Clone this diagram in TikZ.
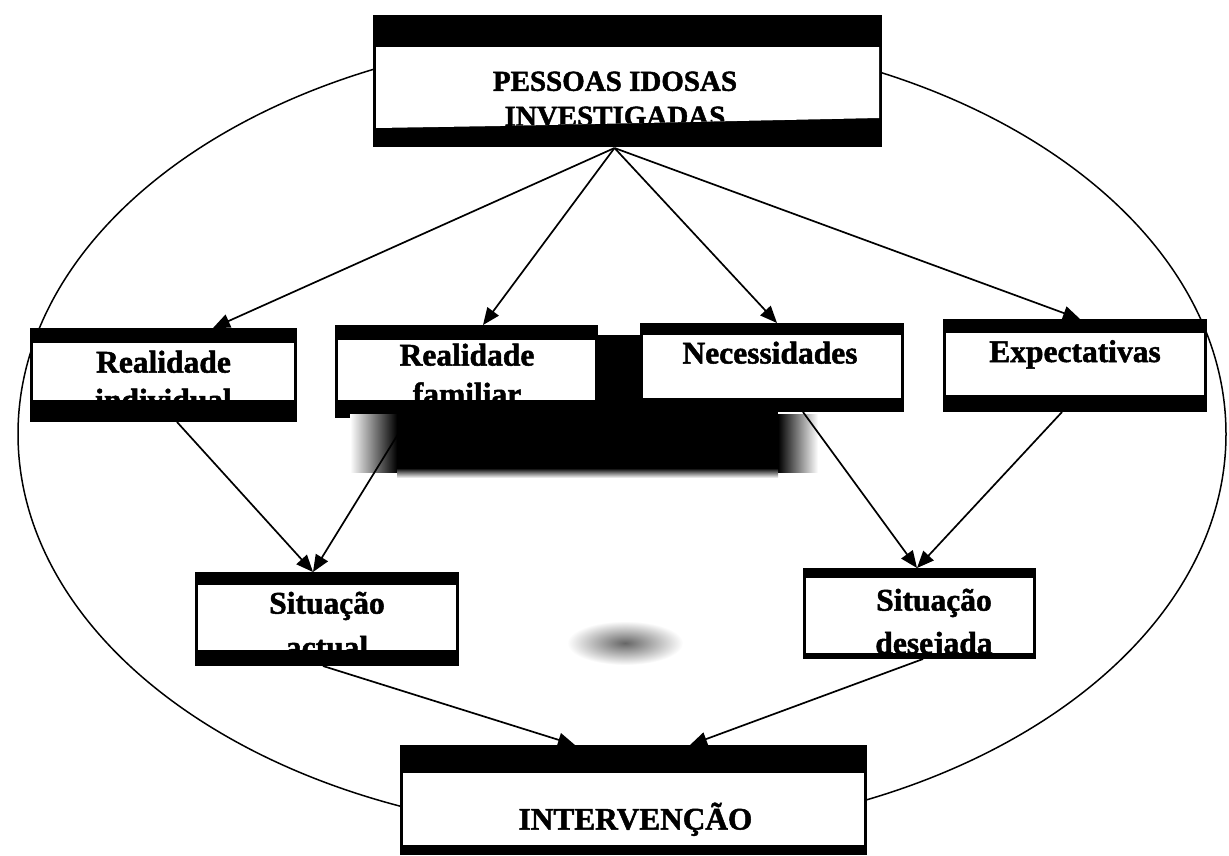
\documentclass[tikz,border=0pt]{standalone}
\usepackage{fontspec}
\setmainfont{Liberation Serif}[BoldFeatures={FakeBold=1.6}]
\usetikzlibrary{arrows.meta,calc}
\begin{document}
\begin{tikzpicture}[x=1pt,y=-1pt,
  frame/.style={fill=black, draw=none, inner sep=0pt, outer sep=0pt},
  boxtext/.style={inner sep=0pt, outer sep=0pt, align=center, text=black},
  rowfont/.style={font=\bfseries\fontsize{31.5}{38}\selectfont},
  link/.style={line width=1.7pt, -{Triangle[length=17pt,width=14pt]}},
  ring/.style={line width=1.5pt}]

\useasboundingbox (0,0) rectangle (1229,855);
\fill[white] (0,0) rectangle (1229,855);

% outer ellipse
\draw[ring] (622,434) ellipse [x radius=604pt, y radius=400pt];

% ---- top box
\node[frame, minimum width=509pt, minimum height=132pt] (pi) at (627.5,81) {};
\fill[white] (376,47) -- (879,47) -- (879,118) -- (500,126) -- (376,128) -- cycle;
\begin{scope}
  \clip (376,47) -- (879,47) -- (879,118) -- (500,126) -- (376,128) -- cycle;
  \node[boxtext, anchor=north, font=\bfseries\fontsize{29}{35}\selectfont] (pi-text) at (615,71.6) {PESSOAS IDOSAS\\INVESTIGADAS};
\end{scope}

% ---- second row
\node[frame, minimum width=267pt, minimum height=94pt] (ri) at (163.5,375) {};
\fill[white] (33,343) rectangle (294,400);
\begin{scope}
  \clip (33,343) rectangle (294,400);
  \node[boxtext, rowfont, anchor=north] (ri-text) at (163.5,350.7) {Realidade\\individual};
\end{scope}

\node[frame, minimum width=263pt, minimum height=93pt] (rf) at (466.5,371.5) {};
\fill[white] (338,340) rectangle (595,400);
\begin{scope}
  \clip (338,340) rectangle (595,400);
  \node[boxtext, font=\bfseries\fontsize{31.5}{39}\selectfont, anchor=north] (rf-text) at (467,343.7) {Realidade\\familiar};
\end{scope}

\node[frame, minimum width=264pt, minimum height=89pt] (ne) at (772,367.5) {};
\fill[white] (643,335) rectangle (901,398);
\node[boxtext, rowfont, anchor=base] (ne-text) at (770,363.5) {Necessidades};

\node[frame, minimum width=264pt, minimum height=93pt] (ex) at (1075,365.5) {};
\fill[white] (946,333) rectangle (1204,395);
\node[boxtext, rowfont, anchor=base] (ex-text) at (1075,362) {Expectativas};

% black bar between the middle boxes
\fill[black] (598,335) rectangle (640,414);

% ---- third row
\node[frame, minimum width=264pt, minimum height=94pt] (sa) at (327,619) {};
\fill[white] (198,585) rectangle (456,650);
\begin{scope}
  \clip (198,585) rectangle (456,650);
  \node[boxtext, font=\bfseries\fontsize{31.5}{44}\selectfont, anchor=north] (sa-text) at (327,591.7) {Situação\\actual};
\end{scope}

\node[frame, minimum width=233pt, minimum height=91pt] (sd) at (919.5,613.5) {};
\fill[white] (806,578) rectangle (1033,653);
\begin{scope}
  \clip (806,578) rectangle (1033,653);
  \node[boxtext, font=\bfseries\fontsize{31.5}{43}\selectfont, anchor=north] (sd-text) at (934,588.7) {Situação\\desejada};
\end{scope}

% ---- bottom box
\node[frame, minimum width=467pt, minimum height=110pt] (in) at (633.5,800) {};
\fill[white] (403,773) rectangle (864,845);
\node[boxtext, anchor=base, font=\bfseries\fontsize{31.3}{36}\selectfont] (in-text) at (635.5,829.5) {INTERVENÇÃO};

% dark smudge below the middle boxes
\fill[black] (397,412) rectangle (778,468);
\shade[left color=white, right color=black] (350,414) rectangle (397,472);
\shade[left color=black, right color=white] (778,414) rectangle (818,472);
\shade[top color=black, bottom color=white] (397,468) rectangle (778,478);

% light smudge between the lower boxes
\shade[inner color=black!60, outer color=white] (625,643) ellipse [x radius=58pt, y radius=22pt];

% ---- connectors
\draw[link] ($(pi.south)+(-13,1)$) -- ($(ri.north)+(49.5,0)$);
\draw[link] ($(pi.south)+(-13,1)$) -- ($(rf.north)+(16.5,0)$);
\draw[link] ($(pi.south)+(-13,1)$) -- ($(ne.north)+(5,0)$);
\draw[link] ($(pi.south)+(-13,1)$) -- ($(ex.north)+(5,0)$);

\draw[link] ($(ri.south)+(13.5,0)$) -- ($(sa.north)+(-14,0)$);
\draw[link] ($(rf.south)+(-58.5,0)$) -- ($(sa.north)+(-14,0)$);
\draw[link] ($(ne.south)+(31,0)$) -- ($(sd.north)+(-2.5,0)$);
\draw[link] ($(ex.south)+(-13,0)$) -- ($(sd.north)+(-2.5,0)$);

\draw[link] ($(sa.south)+(-4,0)$) -- ($(in.north)+(-58.5,0)$);
\draw[link] ($(sd.south)+(3.5,0)$) -- ($(in.north)+(56.5,0)$);
\end{tikzpicture}
\end{document}
